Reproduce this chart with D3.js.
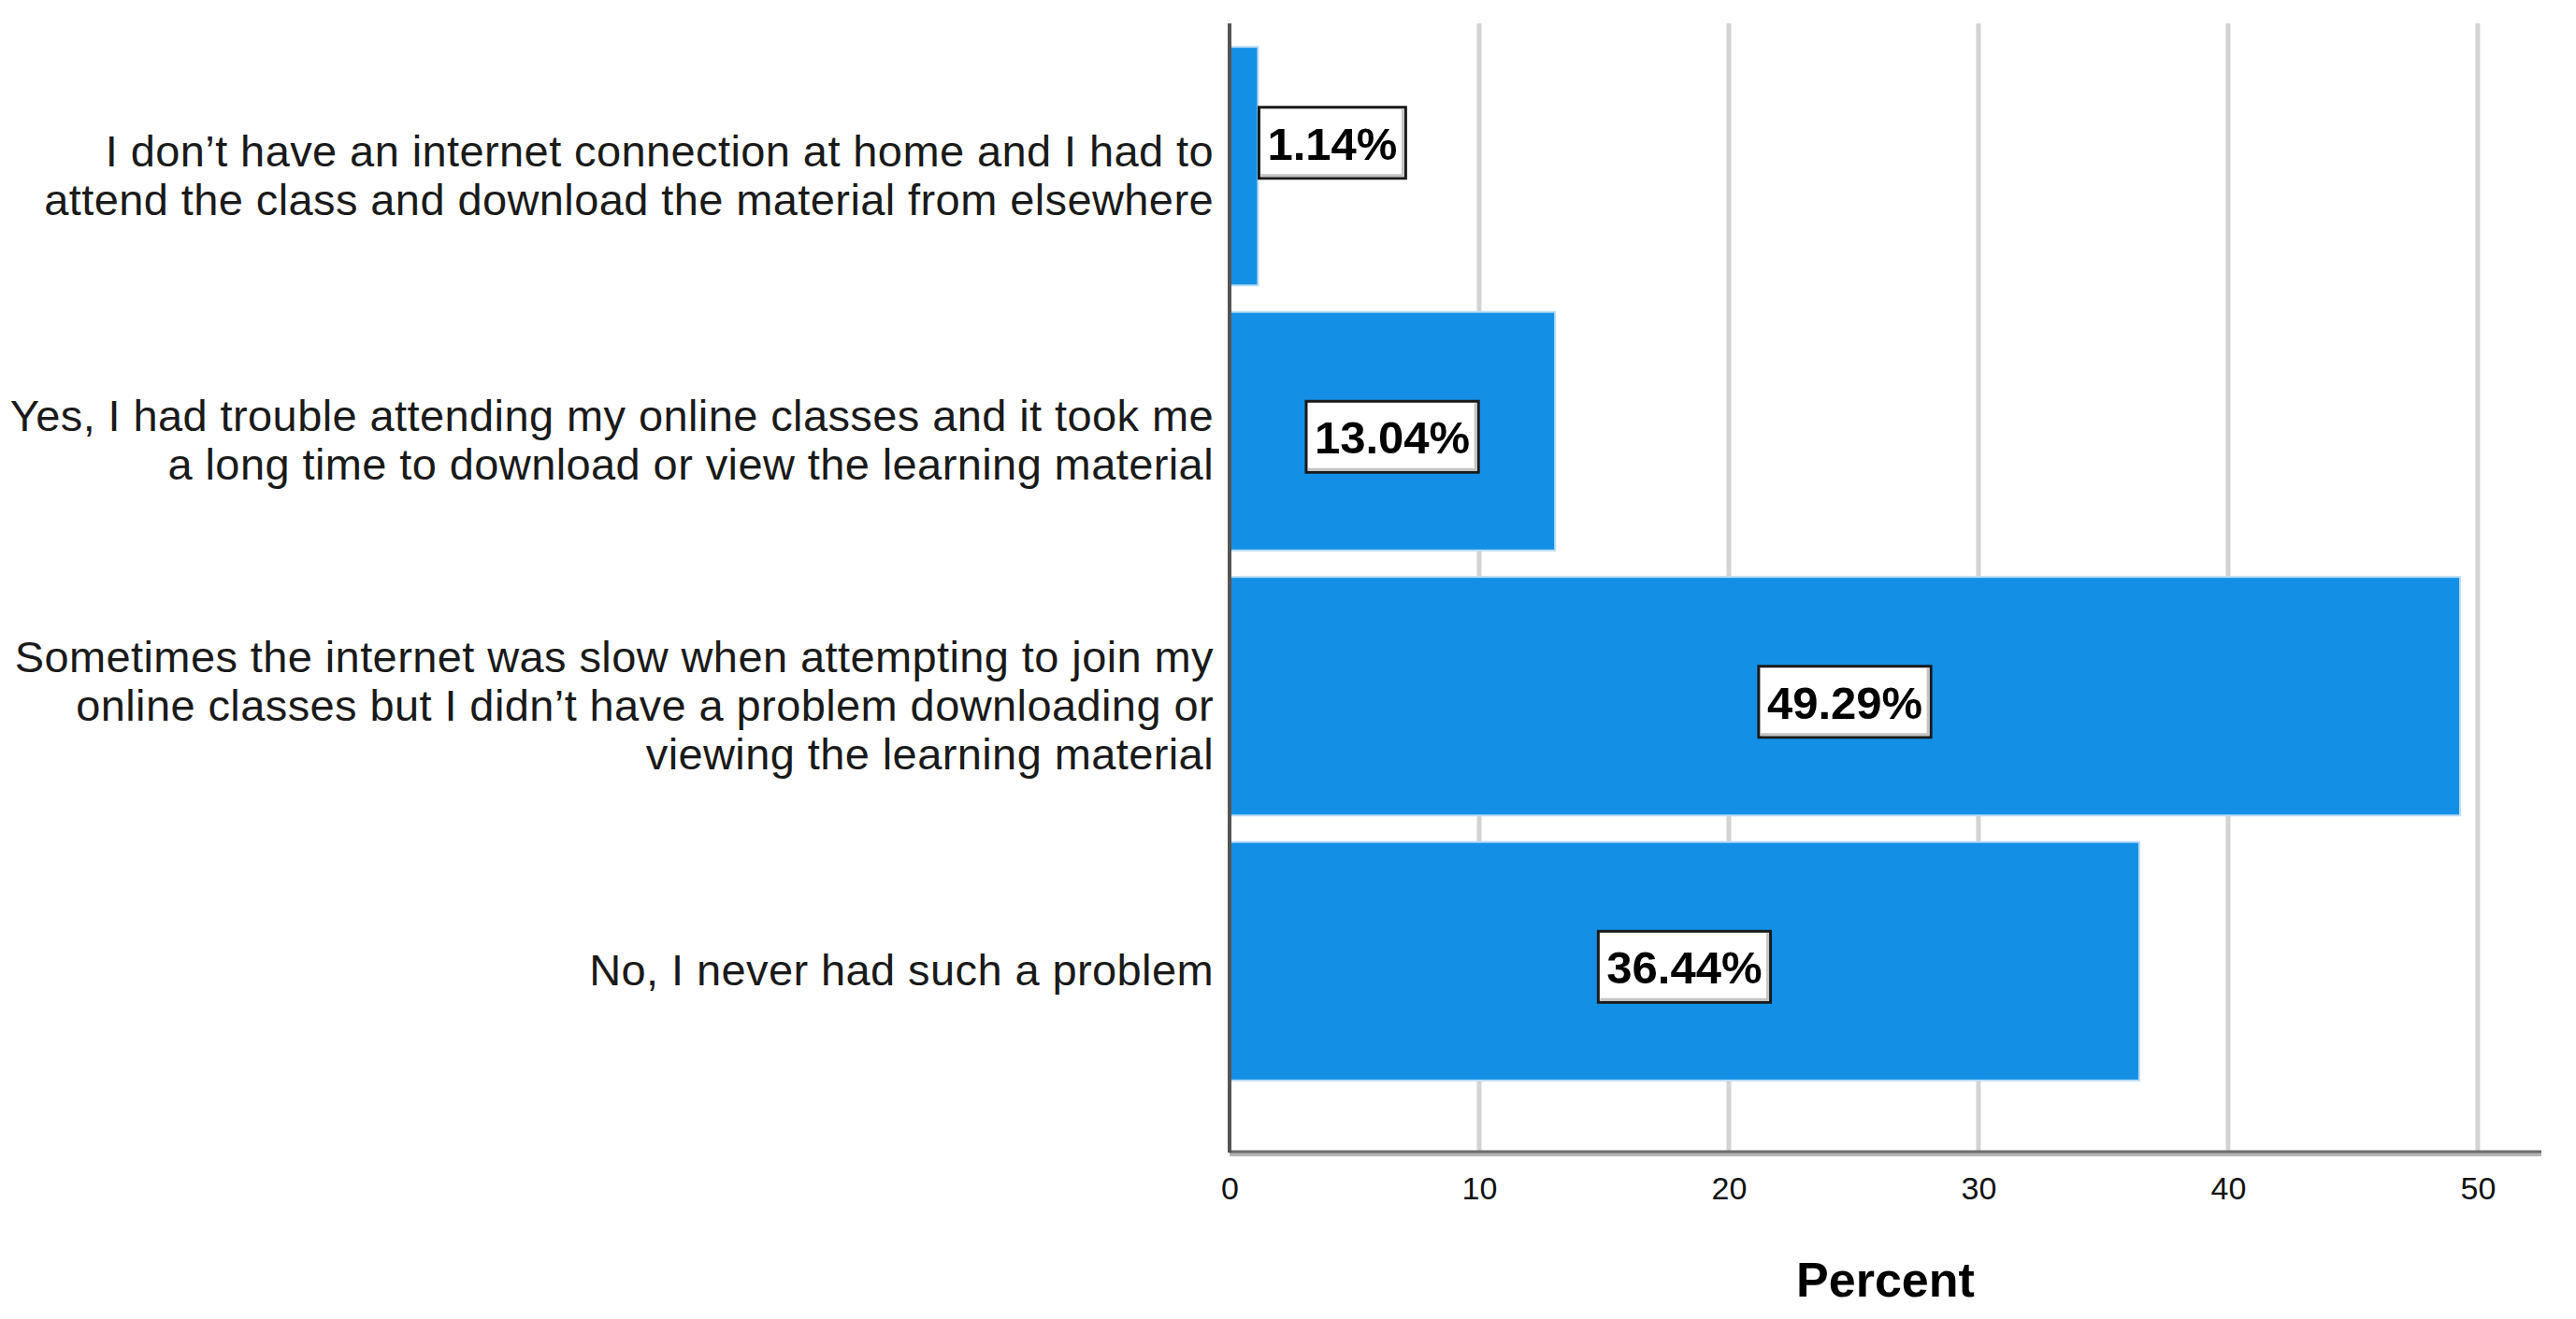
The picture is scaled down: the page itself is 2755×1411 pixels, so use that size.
<!DOCTYPE html>
<html>
<head>
<meta charset="utf-8">
<script src="https://cdn.jsdelivr.net/npm/d3@7"></script>
<style>
  body { margin: 0; background: #fff; }
  svg { display: block; }
</style>
</head>
<body>
<svg id="chart" width="2755" height="1411"></svg>
<script>
// answers, one array of lines per bar
const categories = [
  ["I don\u2019t have an internet connection at home and I had to", "attend the class and download the material from elsewhere"],
  ["Yes, I had trouble attending my online classes and it took me", "a long time to download or view the learning material"],
  ["Sometimes the internet was slow when attempting to join my", "online classes but I didn\u2019t have a problem downloading or", "viewing the learning material"],
  ["No, I never had such a problem"]
];
const percents = [1.14, 13.04, 49.29, 36.44];
const xTicks = [0, 10, 20, 30, 40, 50];
const xTitle = "Percent";

const svg = d3.select('#chart');
const font = '"Liberation Sans", Arial, sans-serif';

// plot area edges (window.top is taken, so plotTop etc.)
const plotLeft = 1315, plotRight = 2718, plotTop = 25, plotBottom = 1233;

const x = d3.scaleLinear().domain([0, 52.55]).range([plotLeft, plotRight]);
const y = d3.scaleBand()
  .domain(d3.range(categories.length))
  .range([36, 1170])
  .paddingInner(0.1)
  .paddingOuter(0.05);

// gridlines
svg.append('g').selectAll('line')
  .data(xTicks.filter(t => t > 0))
  .enter().append('line')
  .attr('x1', d => x(d)).attr('x2', d => x(d))
  .attr('y1', plotTop).attr('y2', plotBottom)
  .attr('stroke', '#d3d3d3')
  .attr('stroke-width', 5);

// bars
svg.append('g').selectAll('rect')
  .data(percents)
  .enter().append('rect')
  .attr('x', x(0))
  .attr('y', (d, i) => y(i))
  .attr('width', d => x(d) - x(0))
  .attr('height', y.bandwidth())
  .attr('fill', '#1390e6')
  .attr('stroke', '#b9dcf6')
  .attr('stroke-width', 2);

// x axis (no tick marks, just labels)
const xAxis = d3.axisBottom(x).tickValues(xTicks).tickSize(0).tickPadding(26);
const gx = svg.append('g')
  .attr('transform', `translate(0,${plotBottom})`)
  .call(xAxis);
gx.select('.domain').remove();
gx.selectAll('text')
  .attr('font-family', font)
  .attr('font-size', 34)
  .attr('fill', '#111');

// axis lines
svg.append('line')
  .attr('x1', plotLeft).attr('x2', plotRight)
  .attr('y1', plotBottom + 1).attr('y2', plotBottom + 1)
  .attr('stroke', '#b5b5b5').attr('stroke-width', 6);
svg.append('line')
  .attr('x1', plotLeft).attr('x2', plotRight)
  .attr('y1', plotBottom - 1).attr('y2', plotBottom - 1)
  .attr('stroke', '#6e6e6e').attr('stroke-width', 3);
svg.append('line')
  .attr('x1', plotLeft).attr('x2', plotLeft)
  .attr('y1', plotTop).attr('y2', plotBottom)
  .attr('stroke', '#555').attr('stroke-width', 4);

// category labels, right aligned next to the axis
const lineH = 52;
svg.append('g').selectAll('text')
  .data(categories)
  .enter().append('text')
  .attr('text-anchor', 'end')
  .attr('font-family', font)
  .attr('font-size', 47)
  .attr('letter-spacing', 0.4)
  .attr('fill', '#1a1a1a')
  .each(function (lines, i) {
    const cy = y(i) + y.bandwidth() / 2;
    d3.select(this).selectAll('tspan')
      .data(lines)
      .enter().append('tspan')
      .attr('x', 1298)
      .attr('y', (l, j) => cy + 26 + (j - (lines.length - 1) / 2) * lineH)
      .text(l => l);
  });

// value labels in boxes
const labels = svg.append('g').selectAll('g')
  .data(percents)
  .enter().append('g');

labels.each(function (d, i) {
  const g = d3.select(this);
  const txt = g.append('text')
    .attr('font-family', font)
    .attr('font-weight', 'bold')
    .attr('font-size', 49)
    .attr('fill', '#000')
    .attr('text-anchor', 'middle')
    .text(d.toFixed(2) + '%');
  const w = txt.node().getComputedTextLength() + 18;
  const h = 76;
  const barW = x(d) - x(0);
  let cx = x(0) + barW / 2;
  let cy = y(i) + y.bandwidth() / 2 + 6;
  if (barW < w + 20) {
    // too small to hold the label: put it just after the bar end
    cx = x(d) + 1 + w / 2;
    cy = y(i) + y.bandwidth() / 2 - 25;
  }
  g.insert('rect', 'text')
    .attr('x', cx - w / 2).attr('y', cy - h / 2)
    .attr('width', w).attr('height', h)
    .attr('fill', '#fff')
    .attr('stroke', '#1a1a1a')
    .attr('stroke-width', 3);
  // faint inner shadow at bottom and right
  g.insert('path', 'text')
    .attr('d', `M${cx - w / 2 + 2},${cy + h / 2 - 3}H${cx + w / 2 - 3}V${cy - h / 2 + 2}`)
    .attr('fill', 'none')
    .attr('stroke', '#c4c4c4')
    .attr('stroke-width', 3);
  txt.attr('x', cx).attr('y', cy + 18);
});

// axis title
svg.append('text')
  .attr('x', (plotLeft + plotRight) / 2)
  .attr('y', 1387)
  .attr('text-anchor', 'middle')
  .attr('font-family', font)
  .attr('font-weight', 'bold')
  .attr('font-size', 52)
  .attr('fill', '#000')
  .text(xTitle);
</script>
</body>
</html>
